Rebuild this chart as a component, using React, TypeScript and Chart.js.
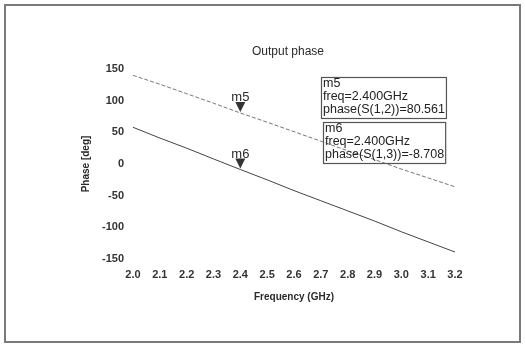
import React, { useEffect, useRef } from "react";
import { Chart, registerables } from "chart.js";

Chart.register(...registerables);

const freqs = [2.0, 2.1, 2.2, 2.3, 2.4, 2.5, 2.6, 2.7, 2.8, 2.9, 3.0, 3.1, 3.2];
const phaseS12 = [140, 126, 111, 96, 80.561, 66, 51, 36, 21, 7, -8, -22, -36];
const phaseS13 = [58, 41, 25, 8, -8.708, -25, -42, -58, -74, -90, -107, -123, -139];
const yTicks = [-150, -100, -50, 0, 50, 100, 150];
const xTicks = [2.0, 2.1, 2.2, 2.3, 2.4, 2.5, 2.6, 2.7, 2.8, 2.9, 3.0, 3.1, 3.2];
const markerNames = ["m5", "m6"];
const markerFreq = 2.4;
const markerValues = [80.561, -8.708];
const markerLabels = ["phase(S(1,2))", "phase(S(1,3))"];
const chartTitle = "Output phase";
const xTitle = "Frequency (GHz)";
const yTitle = "Phase [deg]";

const W = 525;
const H = 345;

const decorPlugin = {
  id: "decor",
  beforeDraw(chart: any) {
    const ctx = chart.ctx;
    ctx.save();
    ctx.fillStyle = "#ffffff";
    ctx.fillRect(0, 0, W, H);
    ctx.restore();
  },
  afterDraw(chart: any) {
    const ctx = chart.ctx;
    const xs = chart.scales.x;
    const ys = chart.scales.y;
    ctx.save();
    // frame
    ctx.strokeStyle = "#7a7a7a";
    ctx.lineWidth = 2;
    ctx.strokeRect(5, 5, 515, 337);
    // title
    ctx.fillStyle = "#2a2a2a";
    ctx.font = "12px 'Liberation Sans', Arial, sans-serif";
    ctx.textAlign = "center";
    ctx.textBaseline = "middle";
    ctx.fillText(chartTitle, 288, 52);
    // markers
    markerNames.forEach((name, i) => {
      const px = xs.getPixelForValue(markerFreq);
      const py = ys.getPixelForValue(markerValues[i]);
      ctx.fillStyle = "#333";
      ctx.beginPath();
      ctx.moveTo(px - 5, py - 11);
      ctx.lineTo(px + 5, py - 11);
      ctx.lineTo(px, py - 1);
      ctx.closePath();
      ctx.fill();
      ctx.font = "13px 'Liberation Sans', Arial, sans-serif";
      ctx.textAlign = "center";
      ctx.textBaseline = "alphabetic";
      ctx.fillStyle = "#2a2a2a";
      ctx.fillText(name, px, py - 12);
    });
    // marker boxes
    const boxes = [
      { x: 321, y: 77 },
      { x: 323, y: 122 },
    ];
    ctx.font = "12.5px 'Liberation Sans', Arial, sans-serif";
    markerNames.forEach((name, i) => {
      const lines = [
        name,
        "freq=" + markerFreq.toFixed(3) + "GHz",
        markerLabels[i] + "=" + markerValues[i].toFixed(3),
      ];
      const tw = Math.max(...lines.map((l) => ctx.measureText(l).width));
      const b = boxes[i];
      const bw = tw + 3;
      const bh = 41;
      ctx.strokeStyle = "#555";
      ctx.lineWidth = 1.2;
      ctx.strokeRect(b.x + 0.5, b.y + 0.5, bw, bh);
      ctx.fillStyle = "#222";
      ctx.textAlign = "left";
      ctx.textBaseline = "middle";
      lines.forEach((l, j) => {
        ctx.fillText(l, b.x + 2, b.y + 7 + j * 13);
      });
    });
    ctx.restore();
  },
};

export default function App() {
  const ref = useRef<HTMLCanvasElement>(null);
  useEffect(() => {
    if (!ref.current) return;
    const tickFont = { family: "'Liberation Sans', Arial, sans-serif", size: 11, weight: "bold" as const };
    const chart = new Chart(ref.current, {
      type: "line",
      data: {
        datasets: [
          {
            label: "S12",
            data: freqs.map((f, i) => ({ x: f, y: phaseS12[i] })),
            borderColor: "#777",
            borderWidth: 1,
            borderDash: [4, 2],
            pointRadius: 0,
            fill: false,
            tension: 0,
          },
          {
            label: "S13",
            data: freqs.map((f, i) => ({ x: f, y: phaseS13[i] })),
            borderColor: "#444",
            borderWidth: 1,
            pointRadius: 0,
            fill: false,
            tension: 0,
          },
        ],
      },
      options: {
        animation: false,
        responsive: false,
        maintainAspectRatio: false,
        layout: { padding: { left: 80, right: 70, top: 69, bottom: 42 } },
        plugins: { legend: { display: false }, title: { display: false }, tooltip: { enabled: false } },
        scales: {
          x: {
            type: "linear",
            min: 2.0,
            max: 3.2,
            border: { display: false },
            grid: { display: false, drawTicks: false },
            afterBuildTicks: (s: any) => {
              s.ticks = xTicks.map((v) => ({ value: v }));
            },
            afterFit: (s: any) => {
              s.height = 44;
            },
            ticks: {
              padding: 9,
              color: "#333",
              font: tickFont,
              maxRotation: 0,
              autoSkip: false,
              callback: (v: any) => Number(v).toFixed(1),
            },
            title: {
              display: true,
              text: xTitle,
              color: "#2a2a2a",
              padding: 0,
              font: { family: "'Liberation Sans', Arial, sans-serif", size: 10, weight: "bold" },
            },
          },
          y: {
            type: "linear",
            min: -150,
            max: 150,
            border: { display: false },
            grid: { display: false, drawTicks: false },
            afterBuildTicks: (s: any) => {
              s.ticks = yTicks.map((v) => ({ value: v }));
            },
            afterFit: (s: any) => {
              s.width = 53;
            },
            ticks: {
              padding: 9,
              color: "#333",
              font: tickFont,
              autoSkip: false,
            },
            title: {
              display: true,
              text: yTitle,
              color: "#2a2a2a",
              padding: 0,
              font: { family: "'Liberation Sans', Arial, sans-serif", size: 10, weight: "bold" },
            },
          },
        },
      },
      plugins: [decorPlugin],
    });
    return () => chart.destroy();
  }, []);
  return (
    <div style={{ position: "fixed", left: 0, top: 0, width: W, height: H, background: "#fff" }}>
      <canvas ref={ref} width={W} height={H} style={{ display: "block", width: W, height: H }} />
    </div>
  );
}
